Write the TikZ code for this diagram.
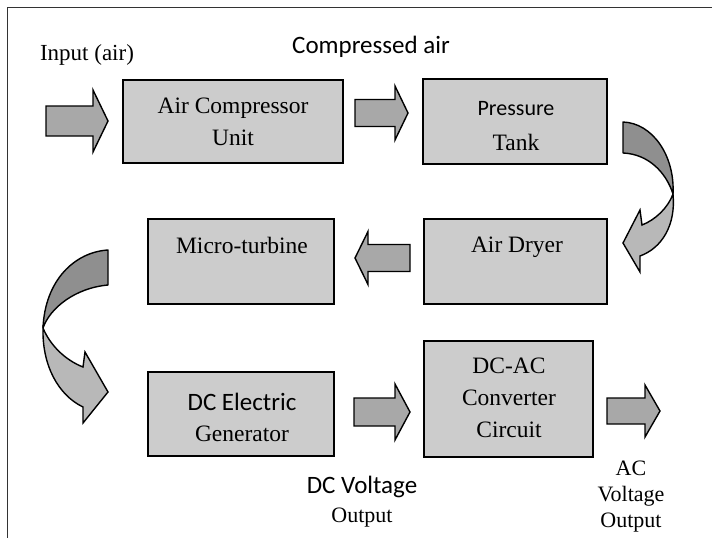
\documentclass[tikz,border=0pt]{standalone}
\usepackage{fontspec}
\setmainfont{Liberation Serif}
\newfontfamily\calib{Carlito}
\usepackage{tikz}
\usetikzlibrary{positioning}
\definecolor{boxfill}{gray}{0.80}
\definecolor{arrfill}{gray}{0.66}
\definecolor{backfill}{gray}{0.56}
\definecolor{frontfill}{gray}{0.72}
\tikzset{
  block/.style     ={draw,line width=1.5pt,fill=boxfill,inner sep=0pt},
  flow/.style      ={draw,line width=1.4pt,fill=arrfill,line join=miter},
  twistback/.style ={draw,line width=1.4pt,fill=backfill,line join=round},
  twistfront/.style={draw,line width=1.4pt,fill=frontfill,line join=miter},
  frame/.style     ={draw,line width=1pt,black!80},
  txt/.style       ={align=center,anchor=base,inner sep=0pt,font=\fontsize{23.5}{32}\selectfont},
  sanstxt/.style   ={align=center,anchor=base,inner sep=0pt,font=\calib\fontsize{25}{30}\selectfont},
  lbl/.style       ={align=center,anchor=base,inner sep=0pt,font=\fontsize{22}{26}\selectfont},
}
% tail x, tip x, mid y, shaft half, head half, head base x
\newcommand{\flowarrow}[6]{%
  \draw[flow] (#1,#3-#4) -- (#6,#3-#4) -- (#6,#3-#5) -- (#2,#3)
    -- (#6,#3+#5) -- (#6,#3+#4) -- (#1,#3+#4) -- cycle;}

\begin{document}
\begin{tikzpicture}[x=1pt,y=-1pt]
  \useasboundingbox (0,0) rectangle (712,538);
  \draw[frame] (7,538) -- (7,7) -- (712,7);

  % blocks
  \node[block,minimum width=220pt,minimum height=83pt] (comp)  at (233,121.5) {};
  \node[block,minimum width=184pt,minimum height=85pt] (tank)  at (515,121.5) {};
  \node[block,minimum width=186pt,minimum height=85pt] (turb)  at (241,261.5) {};
  \node[block,minimum width=183pt,minimum height=85pt] (dryer) at (515.5,261.5) {};
  \node[block,minimum width=186pt,minimum height=84pt] (gen)   at (241,414) {};
  \node[block,minimum width=169pt,minimum height=116pt] (conv) at (508.5,399) {};

  % base of a multi-line node is its last line
  \node[txt] (tcomp)  at (233,145) {Air Compressor\\Unit};
  \node[txt,font=\fontsize{23.5}{35}\selectfont] (ttank) at (516,150)
    {{\calib\fontsize{22}{35}\selectfont Pressure}\\Tank};
  \node[txt] (tturb)  at (242,253) {Micro-turbine};
  \node[txt] (tdryer) at (517,252) {Air Dryer};
  \node[txt,font=\fontsize{23.5}{31}\selectfont] (tgen) at (242,441)
    {{\calib\fontsize{25}{31}\selectfont DC Electric}\\Generator};
  \node[txt] (tconv)  at (509,437) {DC-AC\\Converter\\Circuit};

  % labels
  \node[lbl,font=\fontsize{23}{26}\selectfont] (lin) at (87,60) {Input (air)};
  \node[sanstxt] (lcomp) at (371,53) {Compressed air};
  \node[sanstxt,font=\calib\fontsize{25}{29}\selectfont] (ldc) at (362,522)
    {DC Voltage\\{\rmfamily\fontsize{22}{29}\selectfont Output}};
  \node[lbl] (lac) at (631,527) {AC\\Voltage\\Output};

  % straight arrows
  \flowarrow{46}{108}{121}{15}{31}{93}
  \flowarrow{355}{408}{113}{13.5}{27}{395}
  \flowarrow{410}{355}{258}{13.5}{26.5}{368}
  \flowarrow{354}{410}{412}{14}{28}{395}
  \flowarrow{607}{660}{411}{13}{26}{645}

  % curved arrow, tank to dryer
  \draw[twistback] (623,122) .. controls (652,123) and (675,155) .. (673,194)
    .. controls (666,172) and (648,154) .. (623,153) -- cycle;
  \draw[twistfront] (673,194) .. controls (676,225) and (662,248) .. (640,256)
    -- (640,272) -- (623,243) -- (640,210) -- (642,225)
    .. controls (655,220) and (668,208) .. (673,194) -- cycle;

  % curved arrow, turbine to generator
  \draw[twistback] (108,250) .. controls (75,252) and (45,280) .. (43,328)
    .. controls (50,308) and (75,288) .. (108,285) -- cycle;
  \draw[twistfront] (43,328) .. controls (42,365) and (58,395) .. (83,407)
    -- (83,423) -- (108,392) -- (85,352) -- (83,367)
    .. controls (65,360) and (50,345) .. (43,328) -- cycle;
\end{tikzpicture}
\end{document}
